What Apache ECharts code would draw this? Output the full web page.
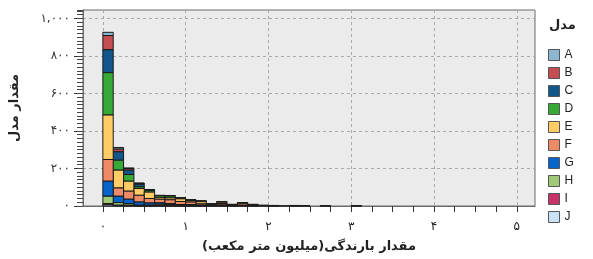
<!DOCTYPE html>
<html>
<head>
<meta charset="utf-8">
<script src="https://cdn.jsdelivr.net/npm/echarts@6/dist/echarts.min.js"></script>
<style>
    html, body { margin: 0; padding: 0; background: #fff; }
    #chart { width: 593px; height: 259px; }
</style>
</head>
<body>
<div id="chart"></div>
<script>
// Histogram data: bins of 0.125 (million m3), counts per model
const binWidth = 0.125;
const models = ['A', 'B', 'C', 'D', 'E', 'F', 'G', 'H', 'I', 'J'];
const colors = ['#8DB6D2', '#C44E52', '#12578C', '#36A936', '#FFCC66', '#EF8A66', '#0565CC', '#A0C978', '#C8336A', '#C8E3F7'];

const countsA = [17, 9, 3, 3, 0, 0, 0, 0, 0, 0, 0, 0, 0, 0, 0, 0, 0, 0, 0, 0, 0, 0, 0, 0, 0];
const countsB = [76, 14, 9, 4, 1, 0, 1, 1, 0, 0, 0, 0, 0, 0, 0, 0, 0, 0, 0, 0, 0, 0, 0, 0, 0];
const countsC = [122, 45, 23, 14, 4, 2, 2, 2, 2, 2, 1, 2, 1, 1, 1, 1, 0, 0, 1, 0, 0, 0, 0, 0, 0];
const countsD = [226, 53, 36, 9, 9, 9, 10, 3, 3, 3, 1, 2, 1, 1, 1, 0, 0, 0, 0, 0, 0, 0, 0, 0, 0];
const countsE = [237, 95, 53, 36, 34, 10, 10, 14, 8, 12, 4, 7, 3, 5, 3, 1, 1, 0, 1, 1, 0, 1, 0, 0, 1];
const countsF = [116, 44, 43, 36, 24, 19, 20, 16, 14, 7, 4, 8, 3, 8, 3, 2, 1, 1, 1, 1, 0, 1, 0, 0, 1];
const countsG = [80, 34, 23, 17, 12, 8, 6, 4, 3, 2, 1, 2, 1, 2, 1, 0, 1, 0, 0, 0, 0, 0, 0, 0, 0];
const countsH = [39, 14, 9, 2, 2, 6, 4, 2, 2, 1, 1, 1, 0, 1, 0, 0, 0, 0, 0, 0, 0, 0, 0, 0, 0];
const countsI = [7, 2, 2, 1, 1, 2, 2, 1, 1, 1, 0, 1, 0, 0, 0, 0, 0, 0, 0, 0, 0, 0, 0, 0, 0];
const countsJ = [6, 2, 2, 1, 1, 1, 1, 1, 1, 0, 1, 1, 0, 0, 0, 0, 0, 0, 0, 0, 0, 0, 0, 0, 0];
const counts = [countsA, countsB, countsC, countsD, countsE, countsF, countsG, countsH, countsI, countsJ];

// Axis ticks and labels
const xTicks = [0, 1, 2, 3, 4, 5];
const xTickLabels = ['۰', '۱', '۲', '۳', '۴', '۵'];
const yTicks = [0, 200, 400, 600, 800, 1000];
const yTickLabels = ['۰', '۲۰۰', '۴۰۰', '۶۰۰', '۸۰۰', '۱,۰۰۰'];

const xMinorTicks = [];
for (let v = 0; v <= 5; v += 0.25) xMinorTicks.push(v);

const persianFont = '"DejaVu Sans", sans-serif';
const frameColor = '#6b6b6b';
const gridLine = { show: true, lineStyle: { color: '#a9a9a9', type: [3, 3], width: 1 } };

// Stack: A on top, J at the bottom (like ggplot)
function makeSeries(idx) {
    const data = [];
    counts[idx].forEach((v, i) => {
        if (!v) return;
        let base = 0;
        for (let k = idx + 1; k < counts.length; k++) base += counts[k][i];
        data.push([i * binWidth, (i + 1) * binWidth, base, base + v]);
    });
    return {
        type: 'custom',
        name: models[idx],
        xAxisIndex: 0,
        yAxisIndex: 0,
        itemStyle: { color: colors[idx] },
        encode: { x: [0, 1], y: [2, 3] },
        data: data,
        renderItem: function (params, api) {
            const p0 = api.coord([api.value(0), api.value(3)]);
            const p1 = api.coord([api.value(1), api.value(2)]);
            return {
                type: 'rect',
                shape: { x: p0[0], y: p0[1], width: p1[0] - p0[0], height: p1[1] - p0[1] },
                style: { fill: colors[idx], stroke: '#1a1a1a', lineWidth: 1 }
            };
        }
    };
}

const chart = echarts.init(document.getElementById('chart'));

const option = {
    animation: false,
    title: {
        text: 'مدل',
        left: 549,
        top: 19,
        padding: 0,
        textStyle: { fontFamily: persianFont, fontSize: 13, fontWeight: 'bold', color: '#222' }
    },
    legend: {
        orient: 'vertical',
        left: 548,
        top: 49,
        padding: 0,
        itemWidth: 11,
        itemHeight: 11,
        itemGap: 6,
        itemTextGap: 5,
        icon: 'rect',
        data: models,
        itemStyle: { borderColor: '#555', borderWidth: 1 },
        textStyle: { fontFamily: '"Liberation Sans", Arial, sans-serif', fontSize: 12, color: '#222' }
    },
    grid: {
        left: 82,
        right: 58,
        top: 10,
        bottom: 53,
        show: true,
        backgroundColor: '#EBEBEB',
        borderColor: frameColor,
        borderWidth: 1
    },
    xAxis: [
        {
            type: 'value',
            position: 'bottom',
            min: -0.24,
            max: 5.22,
            axisLine: { show: true, onZero: false, lineStyle: { color: frameColor } },
            axisTick: { show: true, customValues: xMinorTicks, length: 6, lineStyle: { color: '#333' } },
            axisLabel: { show: false },
            splitLine: { show: false }
        },
        {
            type: 'value',
            position: 'bottom',
            min: -0.24,
            max: 5.22,
            axisLine: { show: false, onZero: false },
            axisTick: { show: false, customValues: xTicks },
            axisLabel: {
                customValues: xTicks,
                margin: 15,
                fontFamily: persianFont,
                fontSize: 12,
                color: '#222',
                formatter: v => xTickLabels[xTicks.indexOf(v)]
            },
            splitLine: gridLine,
            name: 'مقدار بارندگی(میلیون متر مکعب)',
            nameLocation: 'middle',
            nameGap: 34,
            nameTextStyle: { fontFamily: persianFont, fontSize: 13, fontWeight: 'bold', color: '#222' }
        }
    ],
    yAxis: [
        {
            type: 'value',
            position: 'left',
            min: 0,
            max: 1045,
            interval: 200,
            axisLine: { show: true, onZero: false, lineStyle: { color: frameColor } },
            axisTick: { show: true, length: 9, lineStyle: { color: '#333', width: 1 } },
            axisLabel: {
                showMaxLabel: false,
                margin: 13,
                fontFamily: persianFont,
                fontSize: 12,
                color: '#333',
                formatter: v => {
                    const i = yTicks.indexOf(v);
                    return i < 0 ? '' : yTickLabels[i];
                }
            },
            splitLine: gridLine,
            name: 'مقدار مدل',
            nameLocation: 'middle',
            nameGap: 62,
            nameRotate: 90,
            nameTextStyle: { fontFamily: persianFont, fontSize: 13, fontWeight: 'bold', color: '#222' }
        },
        {
            type: 'value',
            position: 'left',
            min: 0,
            max: 1045,
            interval: 20,
            axisLine: { show: true, onZero: false, lineStyle: { color: frameColor } },
            axisTick: { show: true, length: 6, lineStyle: { color: '#444', width: 1 } },
            axisLabel: { show: false },
            splitLine: { show: false }
        }
    ],
    series: models.map((m, i) => makeSeries(i))
};

chart.setOption(option);
</script>
</body>
</html>
